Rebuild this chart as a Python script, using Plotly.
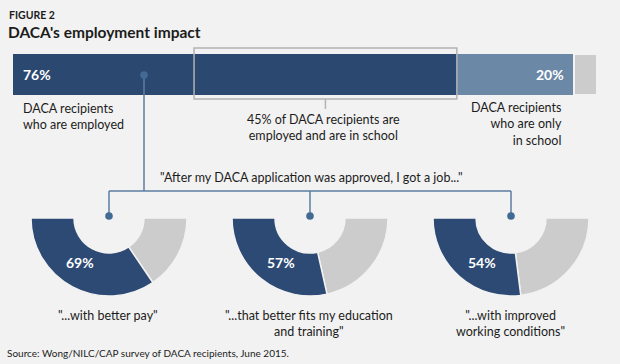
import plotly.graph_objects as go

W, H = 620, 364
BG = "#f2f2f2"
FONT = "Lato"
TXT = "#1c1c1c"
LINE = "#5b7ea3"

# ---- data ----
bar_names = ["Employed", "Only in school", "Other"]
bar_values = [76, 20, 4]
both_value = 45
bar_colors = ["#2b4871", "#6b88a7", "#cccccc"]

donut_values = [69, 57, 54]
donut_labels = [
    '"...with better pay"',
    '"...that better fits my education<br>and training"',
    '"...with improved<br>working conditions"',
]
donut_dark = "#2c4a74"
donut_gray = "#cccccc"


def px(x):
    return x / W


def py(y):
    return 1 - y / H


fig = go.Figure()

# stacked bar
for name, v, c in zip(bar_names, bar_values, bar_colors):
    fig.add_trace(go.Bar(
        x=[v], y=["DACA"], orientation="h", name=name,
        marker=dict(color=c, line=dict(color=BG, width=2 if name == "Other" else 0)),
        hoverinfo="skip", showlegend=False,
    ))

# donuts (bottom half rings): clockwise from 3 o'clock: rest, share, hidden top half
centers = [109, 310, 511]
R = 78
CY = 218
for cx, v in zip(centers, donut_values):
    fig.add_trace(go.Pie(
        values=[100 - v, v, 100], sort=False, direction="clockwise",
        rotation=90, hole=35 / 78,
        marker=dict(colors=[donut_gray, donut_dark, "rgba(0,0,0,0)"],
                    line=dict(color=[BG, BG, "rgba(0,0,0,0)"], width=[1.5, 1.5, 0])),
        textinfo="none", hoverinfo="skip", showlegend=False,
        domain=dict(x=[px(cx - R), px(cx + R)], y=[py(CY + R), py(CY - R)]),
    ))

shapes = []
# 45% box
box_x0 = bar_values[0] - both_value
box_x1 = bar_values[0]
shapes.append(dict(type="rect", xref="x", yref="paper", x0=box_x0, x1=box_x1,
                   y0=py(99), y1=py(48), line=dict(color="#b3b3b3", width=1.5),
                   fillcolor="rgba(0,0,0,0)", layer="above"))
mid = (box_x0 + box_x1) / 2
shapes.append(dict(type="line", xref="x", yref="paper", x0=mid, x1=mid,
                   y0=py(99), y1=py(109), line=dict(color="#b3b3b3", width=1.5)))


def pline(x0, y0, x1, y1):
    shapes.append(dict(type="line", xref="paper", yref="paper", x0=px(x0), x1=px(x1),
                       y0=py(y0), y1=py(y1), line=dict(color=LINE, width=1.5), layer="above"))


def dot(x, y, r=3.8):
    shapes.append(dict(type="circle", xref="paper", yref="paper", x0=px(x - r), x1=px(x + r),
                       y0=py(y + r), y1=py(y - r), line=dict(width=0), fillcolor="#436a93",
                       layer="above"))


pline(144, 75, 144, 191)
pline(109, 191, 511, 191)
for cx in centers:
    pline(cx, 191, cx, 216)
    dot(cx, 216)
dot(144, 75)

ann = []


def text(x, y, s, size=12.5, color=TXT, bold=False, xanchor="center", align="center", yanchor="middle"):
    ann.append(dict(x=px(x), y=py(y), xref="paper", yref="paper", text=s, showarrow=False,
                    xanchor=xanchor, yanchor=yanchor, align=align,
                    font=dict(family=FONT, size=size, color=color, weight="bold" if bold else "normal")))


text(7, 15, "F I G U R E  2".replace(" ", "\u200a") if False else "FIGURE 2", size=10.5, bold=True, xanchor="left")
text(6, 32, "DACA's employment impact", size=15.5, bold=True, xanchor="left")
text(21, 75, f"{bar_values[0]}%", size=14, color="white", bold=True, xanchor="left")
text(566, 75, f"{bar_values[1]}%", size=14, color="white", bold=True, xanchor="right")
text(21, 116.5, "DACA recipients<br>who are employed", xanchor="left", align="left")
text(323, 127, f"{both_value}% of DACA recipients are<br>employed and are in school")
text(564, 124, "DACA recipients<br>who are only<br>in school", xanchor="right", align="right")
text(311, 177, '"After my DACA application was approved, I got a job..."')
for cx, v, lab in zip(centers, donut_values, donut_labels):
    text(cx - 29, 262, f"{v}%", size=14, color="white", bold=True)
    text(cx - 1, 306, lab, yanchor="top")
text(5, 353, "Source: Wong/NILC/CAP survey of DACA recipients, June 2015.", size=10, xanchor="left")

fig.update_layout(
    width=W, height=H, margin=dict(l=0, r=0, t=0, b=0),
    paper_bgcolor=BG, plot_bgcolor="rgba(0,0,0,0)",
    barmode="stack", bargap=0,
    xaxis=dict(domain=[px(13), px(597)], range=[0, 100], visible=False, fixedrange=True),
    yaxis=dict(domain=[py(95), py(54)], visible=False, fixedrange=True),
    shapes=shapes, annotations=ann, showlegend=False,
)

fig.write_html("out.html", config={"displayModeBar": False},
               post_script="document.body.style.margin='0';document.body.style.background='%s';" % BG)
